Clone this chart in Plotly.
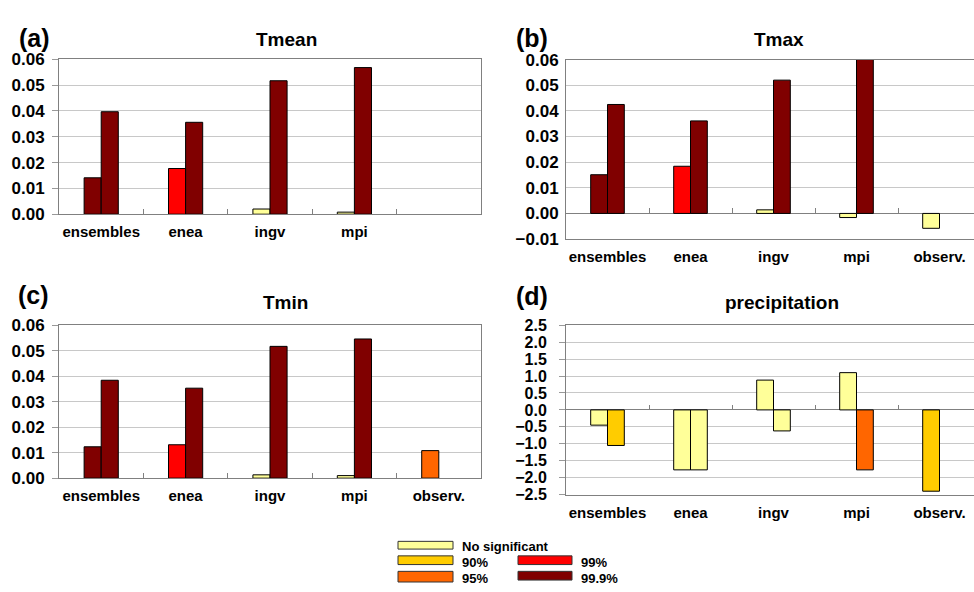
import plotly.graph_objects as go

# ---------------- data ----------------
categories = ['ensembles', 'enea', 'ingv', 'mpi', 'observ.']
labels_a = ['ensembles', 'enea', 'ingv', 'mpi', '']

tmean_bar1 = [0.0141, 0.0177, 0.0020, 0.0008, None]
tmean_bar2 = [0.0397, 0.0356, 0.0517, 0.0568, None]
tmean_sig1 = ['99.9', '99', 'ns', 'ns', 'ns']
tmean_sig2 = ['99.9', '99.9', '99.9', '99.9', '99.9']

tmax_bar1 = [0.0151, 0.0184, 0.0014, -0.0016, -0.0058]
tmax_bar2 = [0.0425, 0.0361, 0.0520, 0.0605, None]
tmax_sig1 = ['99.9', '99', 'ns', 'ns', 'ns']
tmax_sig2 = ['99.9', '99.9', '99.9', '99.9', '99.9']

tmin_bar1 = [0.0123, 0.0131, 0.0013, 0.0010, 0.0108]
tmin_bar2 = [0.0384, 0.0353, 0.0517, 0.0546, None]
tmin_sig1 = ['99.9', '99', 'ns', 'ns', '95']
tmin_sig2 = ['99.9', '99.9', '99.9', '99.9', '99.9']

prec_bar1 = [-0.45, -1.77, 0.88, 1.10, -2.40]
prec_bar2 = [-1.05, -1.77, -0.62, -1.77, None]
prec_sig1 = ['ns', 'ns', 'ns', 'ns', '90']
prec_sig2 = ['90', 'ns', 'ns', '95', 'ns']

sig_levels = ['ns', '90', '95', '99', '99.9']
sig_names = ['No significant', '90%', '95%', '99%', '99.9%']
sig_colors = ['#FFFF99', '#FFCC00', '#FF6600', '#FF0000', '#800000']
color_of = dict(zip(sig_levels, sig_colors))

# ---------------- layout helpers ----------------
W, H = 974, 592
FONT = 'Liberation Sans, Arial, sans-serif'


def pxx(x):
    return x / W


def pxy(y):
    return 1 - y / H


panels = [
    dict(name='Tmean', letter='(a)', b1=tmean_bar1, b2=tmean_bar2, s1=tmean_sig1, s2=tmean_sig2,
         ticktext=labels_a, yr=[0, 0.06], dtick=0.01, fmt='.2f', tfs=17, yticks='outside',
         xd=[pxx(59), pxx(481)], yd=[pxy(212), pxy(52)], xr=[-0.5, 4.5], mirror=True,
         standoff=4, title_xy=(286, 31), letter_xy=(34, 30)),
    dict(name='Tmax', letter='(b)', b1=tmax_bar1, b2=tmax_bar2, s1=tmax_sig1, s2=tmax_sig2,
         ticktext=categories, yr=[-0.01, 0.06], dtick=0.01, fmt='.2f', tfs=17, yticks='',
         xd=[pxx(566), 1.0], yd=[pxy(237.7), pxy(52.3)], xr=[-0.5, 4.5 - 7 / 83], mirror=False,
         standoff=3, title_xy=(779, 31), letter_xy=(532, 30)),
    dict(name='Tmin', letter='(c)', b1=tmin_bar1, b2=tmin_bar2, s1=tmin_sig1, s2=tmin_sig2,
         ticktext=categories, yr=[0, 0.06], dtick=0.01, fmt='.2f', tfs=17, yticks='outside',
         xd=[pxx(59), pxx(481)], yd=[pxy(484.7), pxy(326.7)], xr=[-0.5, 4.5], mirror=True,
         standoff=4, title_xy=(285, 303), letter_xy=(33, 295)),
    dict(name='precipitation', letter='(d)', b1=prec_bar1, b2=prec_bar2, s1=prec_sig1, s2=prec_sig2,
         ticktext=categories, yr=[-2.5, 2.5], dtick=0.5, fmt='.1f', tfs=16, yticks='outside',
         xd=[pxx(566), 1.0], yd=[pxy(501.7), pxy(326.7)], xr=[-0.5, 4.5 - 7 / 83], mirror=False,
         standoff=9, title_xy=(782, 303), letter_xy=(532, 297)),
]

fig = go.Figure()
layout = dict(
    width=W, height=H, autosize=False,
    margin=dict(l=0, r=0, t=0, b=0),
    paper_bgcolor='white', plot_bgcolor='white',
    barmode='group', bargap=0.595, bargroupgap=0,
    showlegend=False,
    font=dict(family=FONT, color='black'),
)
annotations = []
shapes = []

for i, p in enumerate(panels):
    n = i + 1
    xa = 'x' if n == 1 else f'x{n}'
    ya = 'y' if n == 1 else f'y{n}'
    for vals, sig in ((p['b1'], p['s1']), (p['b2'], p['s2'])):
        fig.add_trace(go.Bar(
            x=categories, y=vals, xaxis=xa, yaxis=ya,
            marker=dict(color=[color_of[s] for s in sig], line=dict(color='black', width=1)),
            hoverinfo='x+y', showlegend=False,
        ))
    layout[f'xaxis{n}'] = dict(
        domain=p['xd'], anchor=ya, type='category', categoryorder='array', categoryarray=categories,
        range=p['xr'], tickmode='array', tickvals=categories, ticktext=p['ticktext'],
        showline=True, linecolor='#808080', linewidth=1, mirror=True,
        ticks='', showgrid=False, zeroline=False,
        tickfont=dict(family=FONT, size=15, weight='bold', color='black'),
        ticklabelstandoff=4,
    )
    layout[f'yaxis{n}'] = dict(
        domain=p['yd'], anchor=xa, range=p['yr'], dtick=p['dtick'], tick0=0, tickformat=p['fmt'],
        showline=True, linecolor='#808080', linewidth=1, mirror=p['mirror'],
        showgrid=True, gridcolor='#C8C8C8', gridwidth=1,
        zeroline=True, zerolinecolor='#808080', zerolinewidth=1,
        ticks=p['yticks'], ticklen=6, tickcolor='#999999', tickwidth=1,
        tickfont=dict(family=FONT, size=p['tfs'], weight='bold', color='black'),
        ticklabelstandoff=p['standoff'],
    )
    # overlay axis carrying the category-boundary ticks on the zero line
    y0, y1 = p['yd']
    zero_pos = y0 + (0 - p['yr'][0]) / (p['yr'][1] - p['yr'][0]) * (y1 - y0)
    m = n + 4
    layout[f'xaxis{m}'] = dict(
        overlaying=xa, anchor='free', position=zero_pos, range=p['xr'],
        tickmode='array', tickvals=[0.5, 1.5, 2.5, 3.5], ticks='inside', ticklen=5,
        tickcolor='#808080', tickwidth=1, showticklabels=False,
        showgrid=False, zeroline=False, showline=False,
    )
    fig.add_trace(go.Scatter(x=[None], y=[None], xaxis=f'x{m}', yaxis=ya, mode='markers',
                             showlegend=False, hoverinfo='skip'))
    tx, ty = p['title_xy']
    annotations.append(dict(x=pxx(tx), y=pxy(ty), xref='paper', yref='paper', text=p['name'],
                            showarrow=False, xanchor='center', yanchor='middle',
                            font=dict(family=FONT, size=19, weight='bold', color='black')))
    lx, ly = p['letter_xy']
    annotations.append(dict(x=pxx(lx), y=pxy(ly), xref='paper', yref='paper', text=p['letter'],
                            showarrow=False, xanchor='center', yanchor='middle',
                            font=dict(family=FONT, size=25, weight='bold', color='black')))

# legend drawn as boxes + labels at the bottom
legend_pos = {
    'ns': ((398, 550, 453, 558), (460, 555)),
    '90': ((398, 565, 453, 574), (460, 572)),
    '95': ((398, 581, 453, 592), (460, 588)),
    '99': ((518, 565, 572, 574), (579, 572)),
    '99.9': ((518, 581, 572, 590), (579, 588)),
}
for lev, name, col in zip(sig_levels, sig_names, sig_colors):
    (bx0, by0, bx1, by1), (tx, ty) = legend_pos[lev]
    shapes.append(dict(type='rect', xref='paper', yref='paper',
                       x0=pxx(bx0), x1=pxx(bx1), y0=pxy(by1), y1=pxy(by0),
                       fillcolor=col, line=dict(color='#333333', width=1)))
    annotations.append(dict(x=pxx(tx), y=pxy(ty), xref='paper', yref='paper', text=name,
                            showarrow=False, xanchor='left', yanchor='middle',
                            font=dict(family=FONT, size=13, weight='bold', color='black')))

layout['annotations'] = annotations
layout['shapes'] = shapes
fig.update_layout(**layout)
fig.write_html('out.html')
